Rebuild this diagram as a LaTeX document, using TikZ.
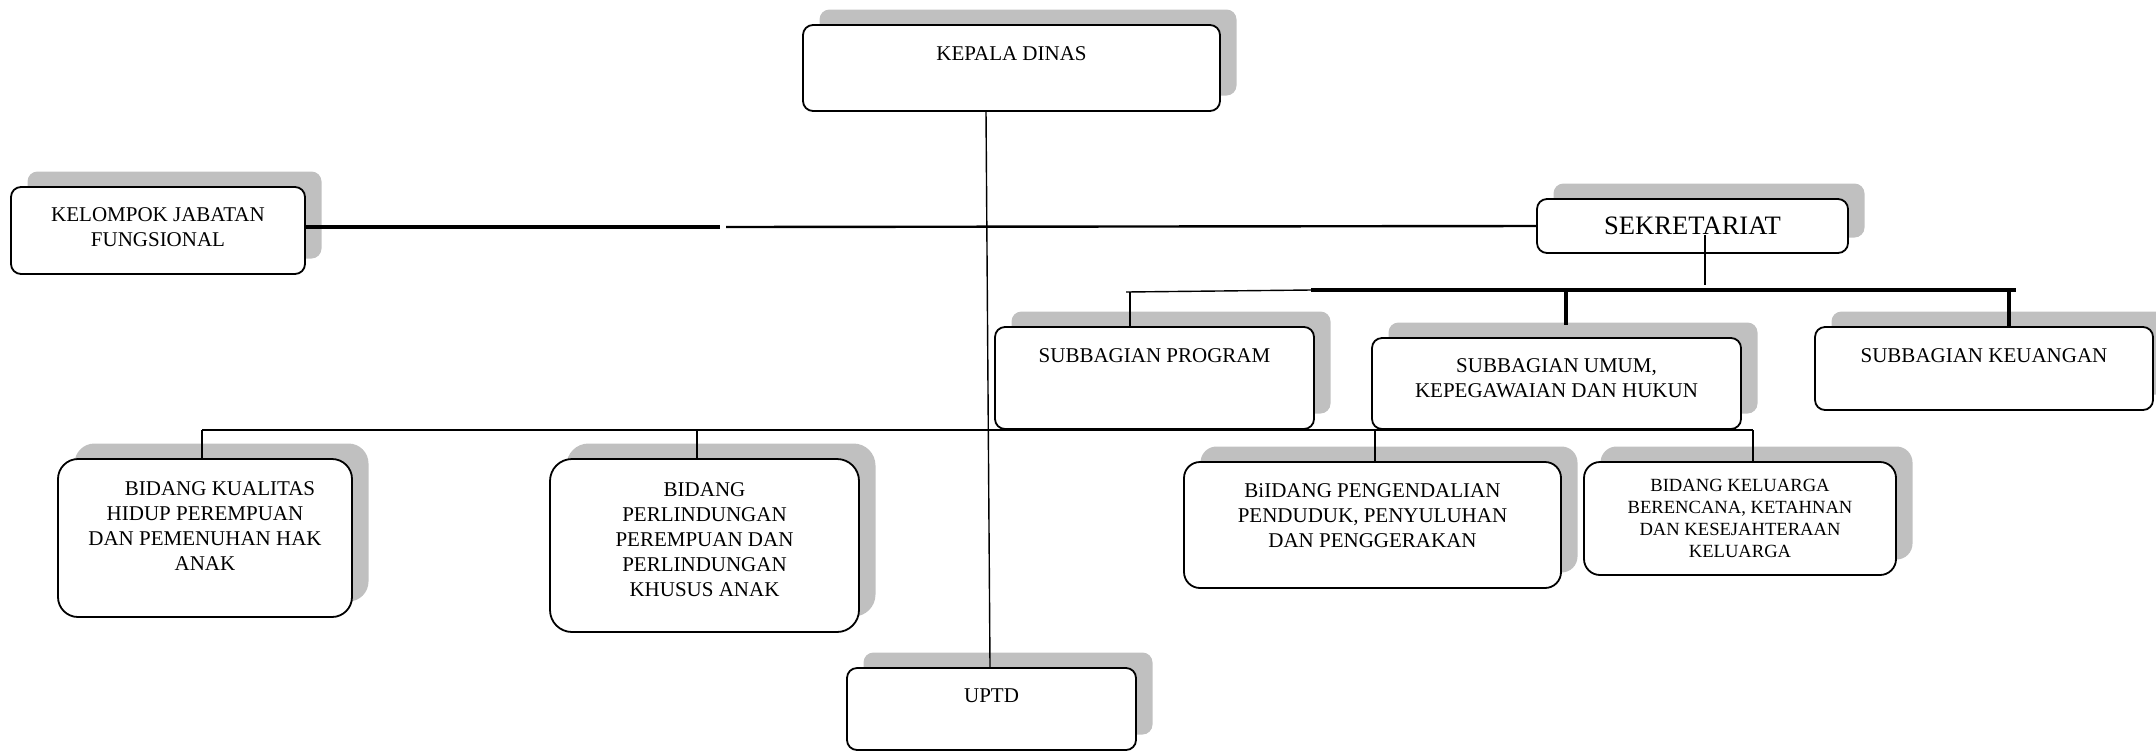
\documentclass[tikz,border=0pt]{standalone}
\usepackage{fontspec}
\setmainfont{Liberation Serif}
\usetikzlibrary{shadows}
\definecolor{shadowgray}{RGB}{192,192,192}

\begin{document}
\begin{tikzpicture}[
  x=0.5pt, y=-0.5pt,
  org_box/.style={draw, line width=0.9pt, rounded corners=#1, fill=white, align=center, inner sep=2pt, font=\fontsize{10.5}{12.5}\selectfont, drop shadow={shadow xshift=8.25pt, shadow yshift=7.75pt, fill=shadowgray, opacity=1}},
  org_box/.default=5pt,
  lift/.style={text depth=#1},
  thin_line/.style={line width=0.7pt},
  mid_line/.style={line width=1.2pt},
  thick_line/.style={line width=1.8pt},
]
\useasboundingbox (0,0) rectangle (2156,751);
\draw (1011.5,68) node (kadis) [org_box, minimum width=208.5pt, minimum height=43pt, lift=14pt] {KEPALA DINAS};
\draw (158,230.5) node (kelompok) [org_box, minimum width=147pt, minimum height=43.5pt, lift=3.5pt] {KELOMPOK JABATAN\\FUNGSIONAL};
\draw (1692.5,226) node (sekret) [org_box, minimum width=155.5pt, minimum height=27pt, font=\fontsize{13.3}{15}\selectfont] {SEKRETARIAT};
\draw (1154.5,378) node (program) [org_box, minimum width=159.5pt, minimum height=51pt, lift=22pt] {SUBBAGIAN PROGRAM};
\draw (1556.5,383.5) node (umum) [org_box, minimum width=184.5pt, minimum height=45.5pt, lift=5.5pt] {SUBBAGIAN UMUM,\\KEPEGAWAIAN DAN HUKUN};
\draw (1984,368.5) node (keuangan) [org_box, minimum width=169pt, minimum height=41.5pt, lift=12.5pt] {SUBBAGIAN KEUANGAN};
\draw (205,538) node (kualitas) [org_box=10pt, minimum width=147pt, minimum height=79pt, lift=11.5pt] {\hspace*{15pt}BIDANG KUALITAS\\HIDUP PEREMPUAN\\DAN PEMENUHAN HAK\\ANAK};
\draw (704.5,545.5) node (perlindungan) [org_box=11pt, minimum width=154.5pt, minimum height=86.5pt, lift=5.5pt] {BIDANG\\PERLINDUNGAN\\PEREMPUAN DAN\\PERLINDUNGAN\\KHUSUS ANAK};
\draw (1372.5,525) node (pengendalian) [org_box=8pt, minimum width=188.5pt, minimum height=63pt, lift=9pt] {BiIDANG PENGENDALIAN\\PENDUDUK, PENYULUHAN\\DAN PENGGERAKAN};
\draw (1740,518.5) node (keluarga) [org_box=8pt, minimum width=156pt, minimum height=56.5pt, font=\fontsize{9.3}{11}\selectfont] {BIDANG KELUARGA\\BERENCANA, KETAHNAN\\DAN KESEJAHTERAAN\\KELUARGA};
\draw (991.5,709) node (uptd) [org_box, minimum width=144.5pt, minimum height=41pt, lift=13pt] {UPTD};

\coordinate (jf_a) at (720,227);
\coordinate (jf_b) at (726,227);
\coordinate (sek_stub) at (1705,285);
\coordinate (sub_a) at (1126,292);
\coordinate (sub_b) at (1311,290);
\coordinate (sub_c) at (2016,290);
\coordinate (bid_a) at (202,430);
\coordinate (bid_b) at (1753,430);

\draw[thin_line] ([xshift=-12.75pt]kadis.south) -- ([xshift=-0.75pt]uptd.north);
\draw[thick_line] (kelompok.east |- jf_a) -- (jf_a);
\draw[mid_line] (jf_b) -- (sekret.west);
\draw[thin_line] ([xshift=6.25pt,yshift=9.5pt]sekret.south) -- (sek_stub);
\draw[thin_line] (sub_a) -- (sub_b);
\draw[thick_line] (sub_b) -- (sub_c);
\draw[thin_line] ([xshift=-12.25pt]program.north |- sub_a) -- ([xshift=-12.25pt]program.north);
\draw[thick_line] ([xshift=4.75pt]umum.north |- sub_c) -- ([xshift=4.75pt,yshift=6pt]umum.north);
\draw[thick_line] ([xshift=12.5pt]keuangan.north |- sub_c) -- ([xshift=12.5pt]keuangan.north);
\draw[mid_line] (bid_a) -- (bid_b);
\draw[mid_line] (bid_a) -- (kualitas.north -| bid_a);
\draw[mid_line] ([xshift=-3.75pt]perlindungan.north |- bid_a) -- ([xshift=-3.75pt]perlindungan.north);
\draw[thin_line] ([xshift=1.25pt]pengendalian.north |- bid_a) -- ([xshift=1.25pt]pengendalian.north);
\draw[thin_line] (bid_b) -- (keluarga.north -| bid_b);
\end{tikzpicture}
\end{document}
